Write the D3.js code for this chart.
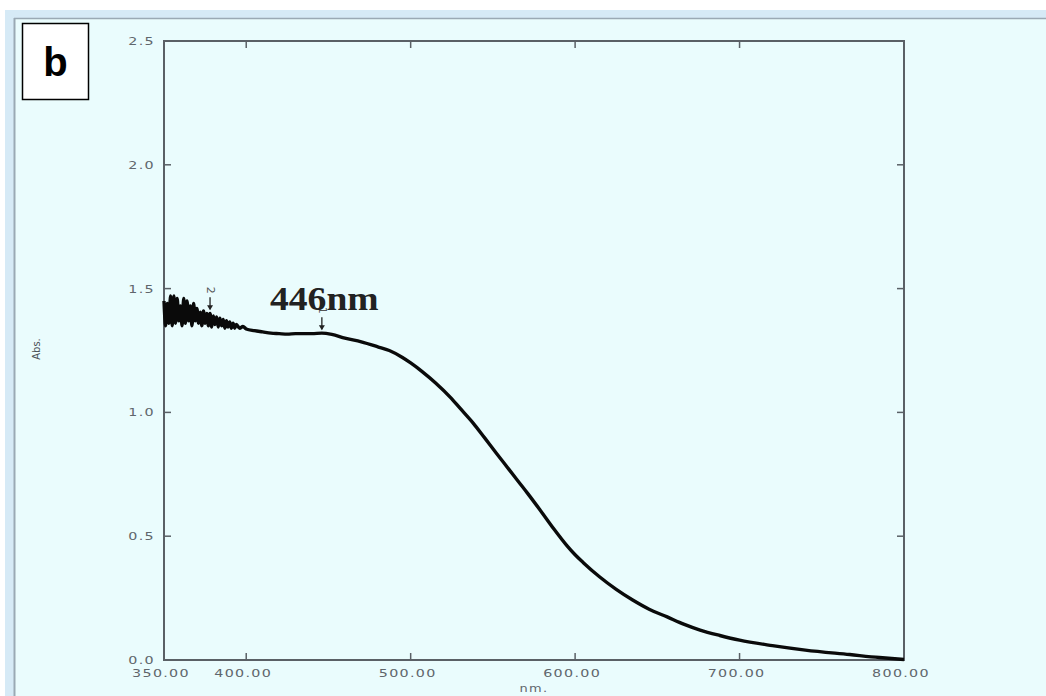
<!DOCTYPE html>
<html>
<head>
<meta charset="utf-8">
<script src="https://cdn.jsdelivr.net/npm/d3@7"></script>
<style>
  html, body { margin: 0; padding: 0; background: #ffffff; }
  svg { display: block; }
</style>
</head>
<body>
<svg id="chart" width="1046" height="696"></svg>
<script>
// Absorbance spectrum (wavelength in nm, absorbance in Abs. units)
const wavelengths = [
  350, 351, 352, 353, 354, 355, 356, 357, 358, 359, 360, 361, 362, 363, 364, 365,
  366, 367, 368, 369, 370, 371, 372, 373, 374, 375, 376, 377, 378, 379, 380, 381,
  382, 383, 384, 385, 386, 387, 388, 389, 390, 391, 392, 393, 394, 396, 398, 400,
  405, 410, 415, 420, 425, 430, 435, 440, 446, 452, 460, 470, 480, 487, 495, 500,
  507, 515, 524, 530, 538, 545, 552, 560, 565, 571, 580, 587, 595, 600, 605, 615,
  625, 635, 645, 656, 666, 676, 688, 700, 720, 740, 767, 785, 800
];
const absorbance = [
  1.45, 1.35, 1.44, 1.36, 1.47, 1.35, 1.47, 1.36, 1.46, 1.37, 1.43, 1.35, 1.46, 1.36, 1.45, 1.37,
  1.43, 1.35, 1.44, 1.37, 1.42, 1.36, 1.405, 1.35, 1.41, 1.36, 1.40, 1.35, 1.40, 1.345, 1.39, 1.355,
  1.385, 1.345, 1.38, 1.35, 1.375, 1.34, 1.37, 1.345, 1.365, 1.34, 1.36, 1.34, 1.355, 1.34, 1.347, 1.337,
  1.33, 1.325, 1.32, 1.318, 1.316, 1.318, 1.318, 1.318, 1.32, 1.315, 1.30, 1.285, 1.265, 1.25, 1.222, 1.20,
  1.165, 1.12, 1.062, 1.017, 0.957, 0.897, 0.836, 0.768, 0.725, 0.674, 0.594, 0.53, 0.462, 0.425, 0.393, 0.335,
  0.285, 0.242, 0.205, 0.174, 0.145, 0.121, 0.099, 0.08, 0.058, 0.04, 0.022, 0.01, 0.002
];

// Axis ticks
const xTicks = [350, 400, 500, 600, 700, 800];
const xTickLabels = ["350.00", "400.00", "500.00", "600.00", "700.00", "800.00"];
const yTicks = [0.0, 0.5, 1.0, 1.5, 2.0, 2.5];
const yTickLabels = ["0.0", "0.5", "1.0", "1.5", "2.0", "2.5"];

// Peak picks
const peakLabels = ["1", "2"];
const peakWavelengths = [446, 378];
const peakAbsorbance = [1.32, 1.40];

const svg = d3.select("#chart");
const W = 1046, H = 696;

// window background and frame
svg.append("rect").attr("x", 0).attr("y", 0).attr("width", W).attr("height", H).attr("fill", "#ffffff");
svg.append("rect").attr("x", 5).attr("y", 10).attr("width", W - 5).attr("height", H - 10).attr("fill", "#d6eaf6");
svg.append("rect").attr("x", 15).attr("y", 19).attr("width", W - 15).attr("height", H - 19).attr("fill", "#eafcfd");
svg.append("line").attr("x1", 14).attr("x2", W).attr("y1", 18.5).attr("y2", 18.5)
  .attr("stroke", "#9aa9b4").attr("stroke-width", 1.5);
svg.append("line").attr("x1", 14.5).attr("x2", 14.5).attr("y1", 18).attr("y2", H)
  .attr("stroke", "#9aa9b4").attr("stroke-width", 2);

const x = d3.scaleLinear().domain([350, 800]).range([164, 904]);
const y = d3.scaleLinear().domain([0, 2.5]).range([660, 41]);

const axisColor = "#5a6066";
const tickFont = "DejaVu Sans, Verdana, sans-serif";
const labelColor = "#5f666c";

// plot frame
svg.append("rect")
  .attr("x", x(350)).attr("y", y(2.5))
  .attr("width", x(800) - x(350)).attr("height", y(0) - y(2.5))
  .attr("fill", "none").attr("stroke", axisColor).attr("stroke-width", 2);

// inward ticks on all four sides
const innerX = xTicks.filter(v => v > 350 && v < 800);
const innerY = yTicks.filter(v => v > 0 && v < 2.5);
const tickLen = 7;

svg.append("g").selectAll("line").data(innerX).join("line")
  .attr("x1", d => x(d)).attr("x2", d => x(d))
  .attr("y1", y(0)).attr("y2", y(0) - tickLen)
  .attr("stroke", axisColor).attr("stroke-width", 1.5);
svg.append("g").selectAll("line").data(innerX).join("line")
  .attr("x1", d => x(d)).attr("x2", d => x(d))
  .attr("y1", y(2.5)).attr("y2", y(2.5) + tickLen)
  .attr("stroke", axisColor).attr("stroke-width", 1.5);
svg.append("g").selectAll("line").data(innerY).join("line")
  .attr("x1", x(350)).attr("x2", x(350) + tickLen)
  .attr("y1", d => y(d)).attr("y2", d => y(d))
  .attr("stroke", axisColor).attr("stroke-width", 1.5);
svg.append("g").selectAll("line").data(innerY).join("line")
  .attr("x1", x(800)).attr("x2", x(800) - tickLen)
  .attr("y1", d => y(d)).attr("y2", d => y(d))
  .attr("stroke", axisColor).attr("stroke-width", 1.5);

// tick labels (wide instrument font look)
svg.append("g").selectAll("text").data(yTicks).join("text")
  .attr("transform", d => `translate(${x(350) - 9},${y(d) + 4}) scale(1.3,1)`)
  .attr("text-anchor", "end")
  .attr("font-family", tickFont).attr("font-size", 11).attr("letter-spacing", 1)
  .attr("fill", labelColor)
  .text((d, i) => yTickLabels[i]);

svg.append("g").selectAll("text").data(xTicks).join("text")
  .attr("transform", d => `translate(${x(d) - 3},${y(0) + 17}) scale(1.3,1)`)
  .attr("text-anchor", "middle")
  .attr("font-family", tickFont).attr("font-size", 11).attr("letter-spacing", 1)
  .attr("fill", labelColor)
  .text((d, i) => xTickLabels[i]);

// axis titles
svg.append("text")
  .attr("transform", `translate(${(x(350) + x(800)) / 2},692) scale(1.3,1)`)
  .attr("text-anchor", "middle")
  .attr("font-family", tickFont).attr("font-size", 10).attr("letter-spacing", 1)
  .attr("fill", labelColor).text("nm.");

svg.append("text")
  .attr("transform", "translate(40,349) rotate(-90)")
  .attr("text-anchor", "middle")
  .attr("font-family", tickFont).attr("font-size", 10)
  .attr("fill", "#4a5056").text("Abs.");

// spectrum
const line = d3.line()
  .x((d, i) => x(wavelengths[i]))
  .y(d => y(d))
  .curve(d3.curveMonotoneX);

svg.append("path")
  .datum(absorbance)
  .attr("d", line)
  .attr("fill", "none")
  .attr("stroke", "#0a0a0a")
  .attr("stroke-width", 3.4)
  .attr("stroke-linejoin", "round");

// peak pick markers
peakLabels.forEach((lab, i) => {
  const px = x(peakWavelengths[i]);
  const py = y(peakAbsorbance[i]);
  svg.append("line")
    .attr("x1", px).attr("x2", px)
    .attr("y1", py - 16).attr("y2", py - 4)
    .attr("stroke", "#222").attr("stroke-width", 1.3);
  svg.append("path")
    .attr("d", `M${px - 3},${py - 8} L${px + 3},${py - 8} L${px},${py - 3} Z`)
    .attr("fill", "#222");
  svg.append("text")
    .attr("transform", `translate(${px - 3},${py - 23}) rotate(90)`)
    .attr("text-anchor", "middle")
    .attr("font-family", tickFont).attr("font-size", 11)
    .attr("fill", "#555").text(lab);
});

// annotation of the band maximum
svg.append("text")
  .attr("transform", "translate(270,310) scale(1.14,1)")
  .attr("font-family", "Liberation Serif, Times New Roman, serif")
  .attr("font-weight", "bold").attr("font-size", 33)
  .attr("fill", "#222").text(peakWavelengths[0] + "nm");

// panel label
svg.append("rect")
  .attr("x", 22.5).attr("y", 23.5).attr("width", 66).attr("height", 76)
  .attr("fill", "#ffffff").attr("stroke", "#000").attr("stroke-width", 1.5);
svg.append("text")
  .attr("x", 55.5).attr("y", 76)
  .attr("text-anchor", "middle")
  .attr("font-family", "Liberation Sans, Arial, sans-serif")
  .attr("font-weight", "bold").attr("font-size", 40)
  .attr("fill", "#000").text("b");
</script>
</body>
</html>
